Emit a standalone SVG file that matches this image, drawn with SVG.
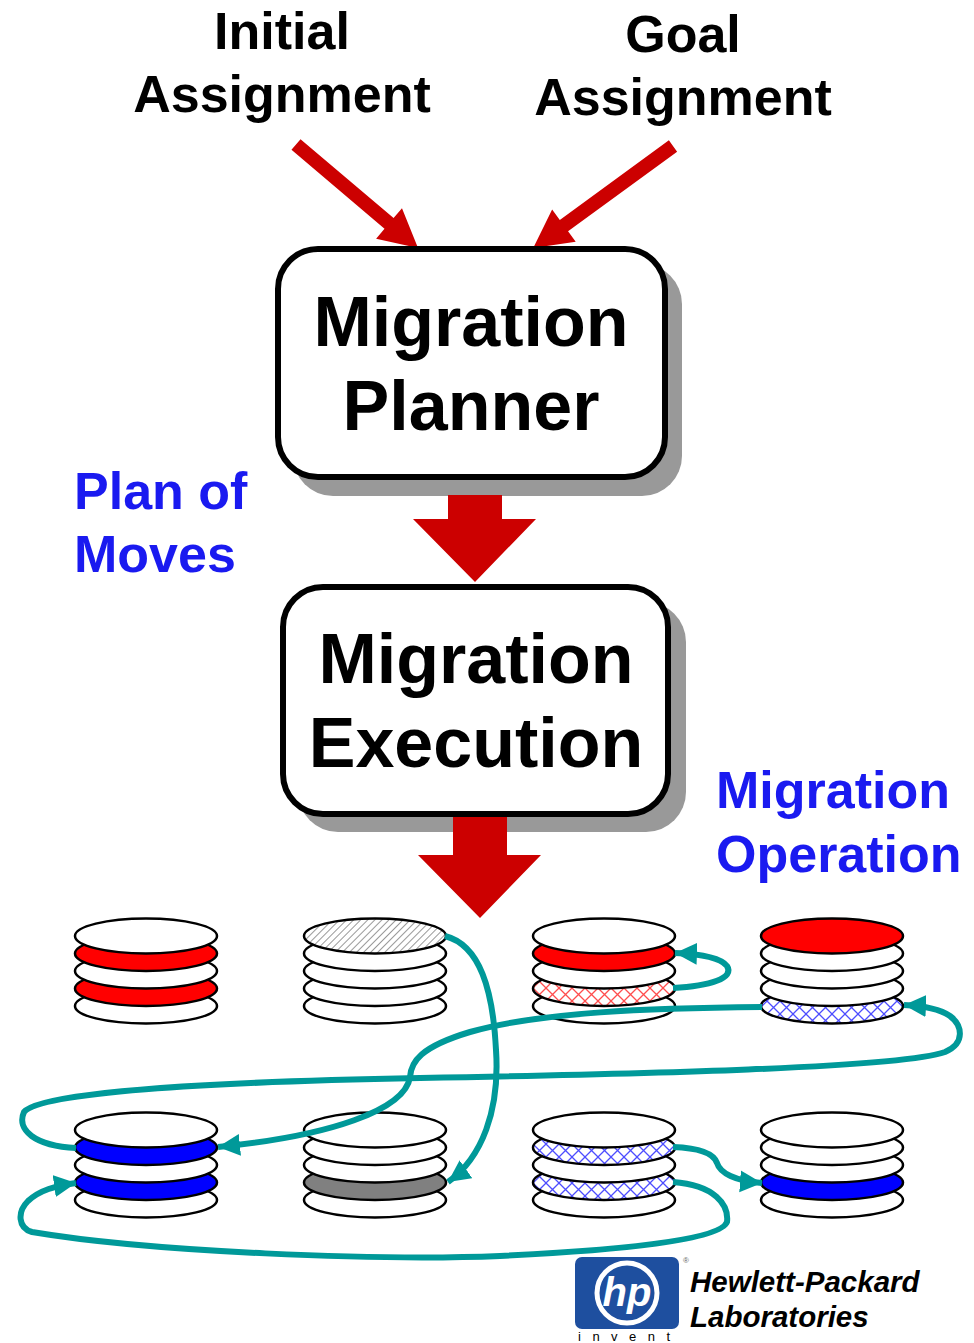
<svg xmlns="http://www.w3.org/2000/svg" width="974" height="1343" viewBox="0 0 974 1343">
  <style>
    .title { font-family: "Liberation Sans", Arial, sans-serif; font-weight: bold; fill: #000; text-anchor: middle; }
    .box-text { font-family: "Liberation Sans", Arial, sans-serif; font-weight: bold; font-size: 70px; fill: #000; text-anchor: middle; }
    .note { font-family: "Liberation Sans", Arial, sans-serif; font-weight: bold; font-size: 52px; fill: #1a1af0; }
    .box { fill: #fff; stroke: #000; stroke-width: 6; }
    .shadow { fill: #999; }
    .big-arrow { fill: #cc0000; }
    .disk { stroke: #000; stroke-width: 2.5; }
    .w { fill: #fff; }
    .r { fill: #ff0000; }
    .b { fill: #0000ff; }
    .g { fill: #808080; }
    .hatch { fill: url(#diag); }
    .xr { fill: url(#crossRed); }
    .xb { fill: url(#crossBlue); }
    .move { fill: none; stroke: #009999; stroke-width: 6; marker-end: url(#tealHead); }
    .hp-label { font-family: "Liberation Sans", Arial, sans-serif; font-weight: bold; font-style: italic; font-size: 29.5px; fill: #000; }
  </style>
  <defs>
    <pattern id="diag" patternUnits="userSpaceOnUse" width="5" height="5" patternTransform="rotate(45)">
      <rect width="5" height="5" fill="#fff"/>
      <line x1="0" y1="0" x2="0" y2="5" stroke="#999" stroke-width="2"/>
    </pattern>
    <pattern id="crossRed" patternUnits="userSpaceOnUse" width="13" height="13">
      <rect width="13" height="13" fill="#fff"/>
      <path d="M0,0 L13,13 M13,0 L0,13" stroke="#ff4d4d" stroke-width="1.3"/>
    </pattern>
    <pattern id="crossBlue" patternUnits="userSpaceOnUse" width="13" height="13">
      <rect width="13" height="13" fill="#fff"/>
      <path d="M0,0 L13,13 M13,0 L0,13" stroke="#4d4dff" stroke-width="1.3"/>
    </pattern>
    <marker id="tealHead" markerUnits="userSpaceOnUse" markerWidth="26" markerHeight="24" refX="22" refY="11" orient="auto">
      <path d="M0,0 L22,11 L0,22 z" fill="#009999"/>
    </marker>
  </defs>

  <rect width="974" height="1343" fill="#fff"/>

  <!-- headings -->
  <g id="initial-assignment">
    <text class="title" font-size="52" x="282" y="49">Initial</text>
    <text class="title" font-size="52" x="282" y="112">Assignment</text>
  </g>
  <g id="goal-assignment">
    <text class="title" font-size="52" x="683" y="52">Goal</text>
    <text class="title" font-size="52" x="683" y="115">Assignment</text>
  </g>

  <!-- input arrows -->
  <g id="input-arrows" class="big-arrow">
    <polygon transform="translate(296,144.5) rotate(40.3)" points="0,-7 122,-7 122,-20 160,0 122,20 122,7 0,7"/>
    <polygon transform="translate(673,146) rotate(143.9)" points="0,-7 135,-7 135,-20 173,0 135,20 135,7 0,7"/>
  </g>

  <!-- planner box -->
  <g id="migration-planner">
    <rect class="shadow" x="293" y="264" width="389" height="232" rx="40"/>
    <rect class="box" x="278" y="249" width="387" height="228" rx="40"/>
    <text class="box-text" x="471" y="346">Migration</text>
    <text class="box-text" x="471" y="430">Planner</text>
  </g>

  <!-- planner to execution -->
  <g id="plan-arrow" class="big-arrow">
    <polygon points="448,495 502,495 502,519 536,519 475,582 413,519 448,519"/>
  </g>

  <g id="plan-of-moves">
    <text class="note" x="74" y="509">Plan of</text>
    <text class="note" x="74" y="572">Moves</text>
  </g>

  <!-- execution box -->
  <g id="migration-execution">
    <rect class="shadow" x="298" y="602" width="388" height="230" rx="40"/>
    <rect class="box" x="283" y="587" width="385" height="227" rx="40"/>
    <text class="box-text" x="476" y="683">Migration</text>
    <text class="box-text" x="476" y="767">Execution</text>
  </g>

  <g id="exec-arrow" class="big-arrow">
    <polygon points="453,817 507,817 507,855 541,855 480,918 418,855 453,855"/>
  </g>

  <g id="migration-operation">
    <text class="note" x="716" y="808">Migration</text>
    <text class="note" x="716" y="872">Operation</text>
  </g>

  <!-- disk stacks, top row (platters drawn bottom first) -->
  <g id="stack-1" class="disk">
    <ellipse class="w" cx="146" cy="1006" rx="71" ry="17.5"/>
    <ellipse class="r" cx="146" cy="988.5" rx="71" ry="17.5"/>
    <ellipse class="w" cx="146" cy="971" rx="71" ry="17.5"/>
    <ellipse class="r" cx="146" cy="953.5" rx="71" ry="17.5"/>
    <ellipse class="w" cx="146" cy="936" rx="71" ry="17.5"/>
  </g>
  <g id="stack-2" class="disk">
    <ellipse class="w" cx="375" cy="1006" rx="71" ry="17.5"/>
    <ellipse class="w" cx="375" cy="988.5" rx="71" ry="17.5"/>
    <ellipse class="w" cx="375" cy="971" rx="71" ry="17.5"/>
    <ellipse class="w" cx="375" cy="953.5" rx="71" ry="17.5"/>
    <ellipse class="hatch" cx="375" cy="936" rx="71" ry="17.5"/>
  </g>
  <g id="stack-3" class="disk">
    <ellipse class="w" cx="604" cy="1006" rx="71" ry="17.5"/>
    <ellipse class="xr" cx="604" cy="988.5" rx="71" ry="17.5"/>
    <ellipse class="w" cx="604" cy="971" rx="71" ry="17.5"/>
    <ellipse class="r" cx="604" cy="953.5" rx="71" ry="17.5"/>
    <ellipse class="w" cx="604" cy="936" rx="71" ry="17.5"/>
  </g>
  <g id="stack-4" class="disk">
    <ellipse class="xb" cx="832" cy="1006" rx="71" ry="17.5"/>
    <ellipse class="w" cx="832" cy="988.5" rx="71" ry="17.5"/>
    <ellipse class="w" cx="832" cy="971" rx="71" ry="17.5"/>
    <ellipse class="w" cx="832" cy="953.5" rx="71" ry="17.5"/>
    <ellipse class="r" cx="832" cy="936" rx="71" ry="17.5"/>
  </g>

  <!-- disk stacks, bottom row -->
  <g id="stack-5" class="disk">
    <ellipse class="w" cx="146" cy="1200" rx="71" ry="17.5"/>
    <ellipse class="b" cx="146" cy="1182.5" rx="71" ry="17.5"/>
    <ellipse class="w" cx="146" cy="1165" rx="71" ry="17.5"/>
    <ellipse class="b" cx="146" cy="1147.5" rx="71" ry="17.5"/>
    <ellipse class="w" cx="146" cy="1130" rx="71" ry="17.5"/>
  </g>
  <g id="stack-6" class="disk">
    <ellipse class="w" cx="375" cy="1200" rx="71" ry="17.5"/>
    <ellipse class="g" cx="375" cy="1182.5" rx="71" ry="17.5"/>
    <ellipse class="w" cx="375" cy="1165" rx="71" ry="17.5"/>
    <ellipse class="w" cx="375" cy="1147.5" rx="71" ry="17.5"/>
    <ellipse class="w" cx="375" cy="1130" rx="71" ry="17.5"/>
  </g>
  <g id="stack-7" class="disk">
    <ellipse class="w" cx="604" cy="1200" rx="71" ry="17.5"/>
    <ellipse class="xb" cx="604" cy="1182.5" rx="71" ry="17.5"/>
    <ellipse class="w" cx="604" cy="1165" rx="71" ry="17.5"/>
    <ellipse class="xb" cx="604" cy="1147.5" rx="71" ry="17.5"/>
    <ellipse class="w" cx="604" cy="1130" rx="71" ry="17.5"/>
  </g>
  <g id="stack-8" class="disk">
    <ellipse class="w" cx="832" cy="1200" rx="71" ry="17.5"/>
    <ellipse class="b" cx="832" cy="1182.5" rx="71" ry="17.5"/>
    <ellipse class="w" cx="832" cy="1165" rx="71" ry="17.5"/>
    <ellipse class="w" cx="832" cy="1147.5" rx="71" ry="17.5"/>
    <ellipse class="w" cx="832" cy="1130" rx="71" ry="17.5"/>
  </g>

  <!-- data moves between disks -->
  <g id="moves">
    <path class="move" d="M445,936 C480,945 493,990 496,1050 C500,1110 482,1158 448,1182"/>
    <path class="move" d="M673,988 C710,986 735,978 727,966 C720,957 700,954 675,953"/>
    <path class="move" d="M762,1007 C650,1008 540,1012 470,1032 C420,1047 411,1062 410,1077 C405,1110 330,1136 218,1147"/>
    <path class="move" d="M76,1148 C35,1146 16,1130 24,1112 C40,1093 200,1082 420,1078 C640,1074 900,1068 945,1052 C966,1043 962,1025 950,1016 C940,1009 925,1006 904,1005"/>
    <path class="move" d="M673,1147 C700,1148 714,1154 717,1163 C720,1173 735,1181 762,1183"/>
    <path class="move" d="M673,1182 C715,1185 729,1205 727,1222 C720,1240 620,1250 500,1256 C380,1261 150,1252 32,1232 C18,1228 17,1212 28,1201 C40,1190 55,1186 76,1183"/>
  </g>

  <!-- logo -->
  <g id="hp-logo">
    <rect x="575" y="1257" width="104" height="72" rx="7" fill="#1e4f9f"/>
    <circle cx="627" cy="1293" r="30" fill="none" stroke="#fff" stroke-width="5"/>
    <text x="627" y="1306" font-family="Liberation Sans, Arial, sans-serif" font-weight="bold" font-style="italic" font-size="40" fill="#fff" text-anchor="middle">hp</text>
    <text x="683" y="1263" font-family="Liberation Sans, Arial, sans-serif" font-size="8" fill="#666">®</text>
    <text x="578" y="1341" font-family="Liberation Sans, Arial, sans-serif" font-size="13" letter-spacing="11.5" fill="#000">invent</text>
    <text class="hp-label" x="690" y="1292">Hewlett-Packard</text>
    <text class="hp-label" x="690" y="1327">Laboratories</text>
  </g>
</svg>
